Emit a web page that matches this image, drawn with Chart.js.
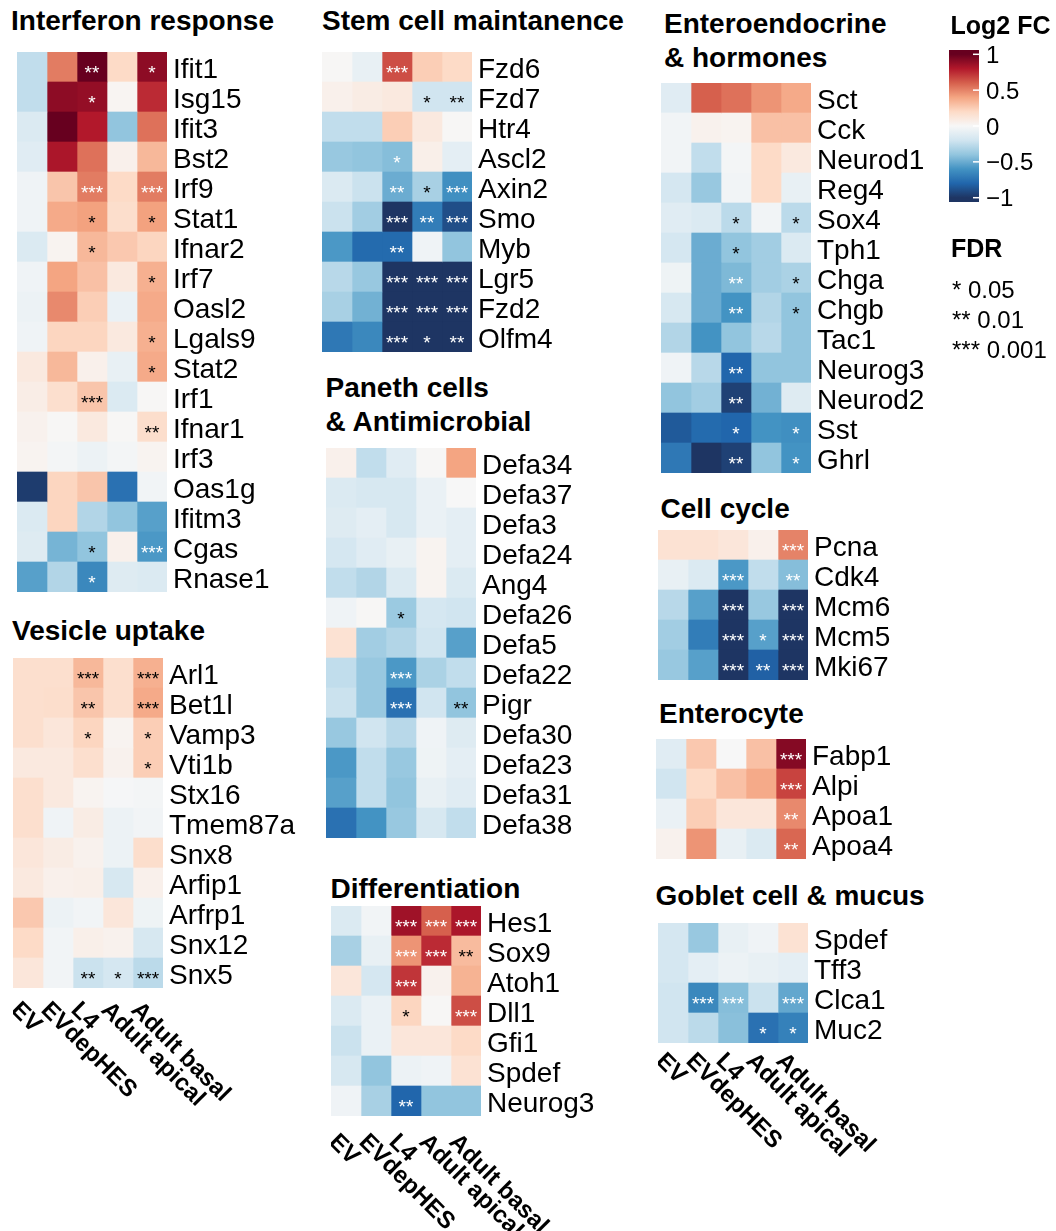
<!DOCTYPE html>
<html>
<head>
<meta charset="utf-8">
<script src="https://cdn.jsdelivr.net/npm/chart.js@4.4.1/dist/chart.umd.min.js"></script>
<style>
  html, body { margin: 0; padding: 0; background: #fff; overflow: hidden; }
  body { width: 1056px; height: 1231px; position: relative; font-family: 'Liberation Sans', Arial, Helvetica, sans-serif; }
  canvas { position: absolute; }
  .txt { position: absolute; white-space: nowrap; line-height: 1; color: #000; }
</style>
</head>
<body>
<script>
const FONT = "'Liberation Sans', Arial, Helvetica, sans-serif";

const samples = ['EV', 'EVdepHES', 'L4', 'Adult apical', 'Adult basal'];

// log2 fold change per gene (rows) and sample (columns); sig = number of FDR stars
const interferonGenes = ['Ifit1', 'Isg15', 'Ifit3', 'Bst2', 'Irf9', 'Stat1', 'Ifnar2', 'Irf7', 'Oasl2',
  'Lgals9', 'Stat2', 'Irf1', 'Ifnar1', 'Irf3', 'Oas1g', 'Ifitm3', 'Cgas', 'Rnase1'];
const interferonFC = [
  [-0.25, 0.52, 1.0, 0.2, 0.9],
  [-0.25, 0.9, 0.88, 0.02, 0.75],
  [-0.15, 1.0, 0.8, -0.4, 0.55],
  [-0.12, 0.82, 0.55, 0.05, 0.33],
  [-0.04, 0.28, 0.52, 0.2, 0.52],
  [-0.04, 0.38, 0.41, 0.18, 0.41],
  [-0.15, 0.03, 0.33, 0.27, 0.22],
  [-0.04, 0.4, 0.3, 0.1, 0.36],
  [-0.06, 0.48, 0.25, -0.07, 0.38],
  [-0.04, 0.22, 0.22, 0.1, 0.36],
  [0.1, 0.33, 0.05, -0.08, 0.38],
  [0.07, 0.17, 0.28, -0.15, 0.01],
  [0.04, 0.01, 0.1, 0.01, 0.18],
  [0.03, -0.02, -0.06, -0.02, 0.03],
  [-0.97, 0.22, 0.28, -0.75, -0.03],
  [-0.15, 0.22, -0.3, -0.4, -0.55],
  [-0.13, -0.47, -0.4, 0.05, -0.58],
  [-0.55, -0.3, -0.65, -0.13, -0.15]
];
const interferonSig = [
  [0, 0, 2, 0, 1], [0, 0, 1, 0, 0], [0, 0, 0, 0, 0], [0, 0, 0, 0, 0], [0, 0, 3, 0, 3],
  [0, 0, 1, 0, 1], [0, 0, 1, 0, 0], [0, 0, 0, 0, 1], [0, 0, 0, 0, 0], [0, 0, 0, 0, 1],
  [0, 0, 0, 0, 1], [0, 0, 3, 0, 0], [0, 0, 0, 0, 2], [0, 0, 0, 0, 0], [0, 0, 0, 0, 0],
  [0, 0, 0, 0, 0], [0, 0, 1, 0, 3], [0, 0, 1, 0, 0]
];

const vesicleGenes = ['Arl1', 'Bet1l', 'Vamp3', 'Vti1b', 'Stx16', 'Tmem87a', 'Snx8', 'Arfip1', 'Arfrp1', 'Snx12', 'Snx5'];
const vesicleFC = [
  [0.17, 0.17, 0.33, 0.17, 0.36],
  [0.17, 0.18, 0.28, 0.17, 0.38],
  [0.17, 0.12, 0.22, 0.03, 0.25],
  [0.1, 0.1, 0.17, 0.04, 0.25],
  [0.17, 0.1, 0.03, -0.01, -0.02],
  [0.17, -0.04, 0.08, -0.06, -0.03],
  [0.12, 0.08, 0.04, -0.06, 0.18],
  [0.1, 0.05, 0.06, -0.17, 0.05],
  [0.27, -0.06, -0.03, 0.12, -0.05],
  [0.2, -0.03, 0.06, 0.04, -0.17],
  [0.12, -0.03, -0.22, -0.18, -0.27]
];
const vesicleSig = [
  [0, 0, 3, 0, 3], [0, 0, 2, 0, 3], [0, 0, 1, 0, 1], [0, 0, 0, 0, 1], [0, 0, 0, 0, 0],
  [0, 0, 0, 0, 0], [0, 0, 0, 0, 0], [0, 0, 0, 0, 0], [0, 0, 0, 0, 0], [0, 0, 0, 0, 0],
  [0, 0, 2, 1, 3]
];

const stemGenes = ['Fzd6', 'Fzd7', 'Htr4', 'Ascl2', 'Axin2', 'Smo', 'Myb', 'Lgr5', 'Fzd2', 'Olfm4'];
const stemFC = [
  [0.01, -0.08, 0.65, 0.25, 0.2],
  [0.05, 0.08, 0.1, -0.2, -0.2],
  [-0.25, -0.25, 0.25, 0.1, 0.01],
  [-0.38, -0.4, -0.43, 0.06, -0.1],
  [-0.15, -0.22, -0.5, -0.33, -0.62],
  [-0.22, -0.35, -1.0, -0.7, -0.9],
  [-0.58, -0.78, -0.78, -0.04, -0.4],
  [-0.28, -0.38, -1.0, -1.0, -1.0],
  [-0.33, -0.48, -1.0, -1.0, -1.0],
  [-0.72, -0.65, -1.0, -1.0, -1.0]
];
const stemSig = [
  [0, 0, 3, 0, 0], [0, 0, 0, 1, 2], [0, 0, 0, 0, 0], [0, 0, 1, 0, 0], [0, 0, 2, 1, 3],
  [0, 0, 3, 2, 3], [0, 0, 2, 0, 0], [0, 0, 3, 3, 3], [0, 0, 3, 3, 3], [0, 0, 3, 1, 2]
];

const panethGenes = ['Defa34', 'Defa37', 'Defa3', 'Defa24', 'Ang4', 'Defa26', 'Defa5', 'Defa22', 'Pigr',
  'Defa30', 'Defa23', 'Defa31', 'Defa38'];
const panethFC = [
  [0.05, -0.25, -0.12, 0.01, 0.4],
  [-0.15, -0.17, -0.17, -0.07, 0.0],
  [-0.13, -0.1, -0.17, -0.07, -0.1],
  [-0.18, -0.12, -0.08, 0.03, -0.1],
  [-0.25, -0.3, -0.15, 0.03, -0.15],
  [-0.04, 0.01, -0.37, -0.18, -0.2],
  [0.15, -0.35, -0.3, -0.2, -0.55],
  [-0.25, -0.38, -0.58, -0.32, -0.25],
  [-0.22, -0.38, -0.75, -0.2, -0.4],
  [-0.38, -0.2, -0.28, -0.04, -0.13],
  [-0.58, -0.25, -0.38, -0.05, -0.1],
  [-0.55, -0.25, -0.4, -0.08, -0.12],
  [-0.75, -0.6, -0.38, -0.17, -0.25]
];
const panethSig = [
  [0, 0, 0, 0, 0], [0, 0, 0, 0, 0], [0, 0, 0, 0, 0], [0, 0, 0, 0, 0], [0, 0, 0, 0, 0],
  [0, 0, 1, 0, 0], [0, 0, 0, 0, 0], [0, 0, 3, 0, 0], [0, 0, 3, 0, 2], [0, 0, 0, 0, 0],
  [0, 0, 0, 0, 0], [0, 0, 0, 0, 0], [0, 0, 0, 0, 0]
];

const diffGenes = ['Hes1', 'Sox9', 'Atoh1', 'Dll1', 'Gfi1', 'Spdef', 'Neurog3'];
const diffFC = [
  [-0.15, -0.03, 0.85, 0.6, 0.82],
  [-0.33, -0.08, 0.45, 0.75, 0.32],
  [0.12, -0.18, 0.72, 0.04, 0.35],
  [-0.15, -0.07, 0.22, 0.01, 0.65],
  [-0.22, -0.07, 0.12, 0.12, 0.2],
  [-0.17, -0.4, -0.06, -0.04, 0.15],
  [-0.04, -0.33, -0.8, -0.4, -0.4]
];
const diffSig = [
  [0, 0, 3, 3, 3], [0, 0, 3, 3, 2], [0, 0, 3, 0, 0], [0, 0, 1, 0, 3], [0, 0, 0, 0, 0],
  [0, 0, 0, 0, 0], [0, 0, 2, 0, 0]
];

const endoGenes = ['Sct', 'Cck', 'Neurod1', 'Reg4', 'Sox4', 'Tph1', 'Chga', 'Chgb', 'Tac1', 'Neurog3',
  'Neurod2', 'Sst', 'Ghrl'];
const endoFC = [
  [-0.12, 0.6, 0.55, 0.45, 0.38],
  [-0.03, 0.04, 0.03, 0.3, 0.3],
  [-0.03, -0.25, -0.02, 0.2, 0.1],
  [-0.18, -0.38, -0.03, 0.2, -0.08],
  [-0.12, -0.15, -0.27, -0.03, -0.27],
  [-0.18, -0.5, -0.4, -0.35, -0.15],
  [-0.05, -0.5, -0.45, -0.35, -0.32],
  [-0.17, -0.5, -0.6, -0.3, -0.4],
  [-0.3, -0.6, -0.4, -0.28, -0.4],
  [-0.04, -0.28, -0.8, -0.4, -0.4],
  [-0.4, -0.35, -0.95, -0.48, -0.13],
  [-0.85, -0.78, -0.8, -0.6, -0.62],
  [-0.72, -1.0, -0.95, -0.4, -0.6]
];
const endoSig = [
  [0, 0, 0, 0, 0], [0, 0, 0, 0, 0], [0, 0, 0, 0, 0], [0, 0, 0, 0, 0], [0, 0, 1, 0, 1],
  [0, 0, 1, 0, 0], [0, 0, 2, 0, 1], [0, 0, 2, 0, 1], [0, 0, 0, 0, 0], [0, 0, 2, 0, 0],
  [0, 0, 2, 0, 0], [0, 0, 1, 0, 1], [0, 0, 2, 0, 1]
];

const cycleGenes = ['Pcna', 'Cdk4', 'Mcm6', 'Mcm5', 'Mki67'];
const cycleFC = [
  [0.15, 0.15, 0.12, 0.05, 0.5],
  [-0.08, -0.15, -0.58, -0.25, -0.43],
  [-0.28, -0.55, -1.0, -0.38, -1.0],
  [-0.35, -0.7, -1.0, -0.55, -1.0],
  [-0.38, -0.55, -1.0, -0.82, -1.0]
];
const cycleSig = [[0, 0, 0, 0, 3], [0, 0, 3, 0, 2], [0, 0, 3, 0, 3], [0, 0, 3, 1, 3], [0, 0, 3, 2, 3]];

const enterocyteGenes = ['Fabp1', 'Alpi', 'Apoa1', 'Apoa4'];
const enterocyteFC = [
  [-0.12, 0.27, 0.0, 0.3, 0.92],
  [-0.2, 0.2, 0.3, 0.38, 0.68],
  [-0.07, 0.25, 0.12, 0.12, 0.48],
  [0.04, 0.45, -0.08, -0.15, 0.58]
];
const enterocyteSig = [[0, 0, 0, 0, 3], [0, 0, 0, 0, 3], [0, 0, 0, 0, 2], [0, 0, 0, 0, 2]];

const gobletGenes = ['Spdef', 'Tff3', 'Clca1', 'Muc2'];
const gobletFC = [
  [-0.18, -0.38, -0.08, -0.04, 0.15],
  [-0.18, -0.1, -0.06, -0.08, -0.1],
  [-0.2, -0.65, -0.43, -0.22, -0.52],
  [-0.2, -0.27, -0.42, -0.75, -0.68]
];
const gobletSig = [[0, 0, 0, 0, 0], [0, 0, 0, 0, 0], [0, 3, 3, 0, 3], [0, 0, 0, 1, 1]];

const legendTicks = [-1, -0.5, 0, 0.5, 1];
const fdrLabels = ['* 0.05', '** 0.01', '*** 0.001'];

// RdBu palette, -1 .. 1
const rdbu = ['#1e3563', '#2166ac', '#4393c3', '#92c5de', '#d1e5f0', '#f7f7f7',
  '#fddbc7', '#f4a582', '#d6604d', '#b2182b', '#67001f'];

function hexRgb(h) {
  return [1, 3, 5].map((i) => parseInt(h.slice(i, i + 2), 16));
}

function fcColour(v) {
  const t = (Math.max(-1, Math.min(1, v)) + 1) / 2 * (rdbu.length - 1);
  const i = Math.min(Math.floor(t), rdbu.length - 2);
  const f = t - i;
  const a = hexRgb(rdbu[i]);
  const b = hexRgb(rdbu[i + 1]);
  return 'rgb(' + a.map((x, k) => Math.round(x + (b[k] - x) * f)).join(',') + ')';
}

function addText(str, x, baseline, size, bold) {
  const d = document.createElement('div');
  d.className = 'txt';
  d.textContent = str;
  d.style.fontSize = size + 'px';
  d.style.fontWeight = bold ? 'bold' : 'normal';
  d.style.left = x + 'px';
  d.style.top = (baseline - 0.8465 * size) + 'px';
  document.body.appendChild(d);
}

const starPlugin = (fc, sig) => ({
  id: 'stars',
  afterDatasetsDraw(chart) {
    const { ctx, scales: { x, y } } = chart;
    ctx.save();
    ctx.font = '19px ' + FONT;
    ctx.textAlign = 'center';
    ctx.textBaseline = 'alphabetic';
    sig.forEach((row, r) => row.forEach((n, c) => {
      if (!n) return;
      ctx.fillStyle = Math.abs(fc[r][c]) >= 0.42 ? '#fff' : '#000';
      ctx.fillText('*'.repeat(n), x.getPixelForValue(c + 0.5), y.getPixelForValue(r) + 11.5);
    }));
    ctx.restore();
  },
});

const colLabelPlugin = (gap) => ({
  id: 'colLabels',
  afterDraw(chart) {
    if (gap == null) return;
    const { ctx, chartArea, scales: { x } } = chart;
    ctx.save();
    ctx.font = 'bold 24px ' + FONT;
    ctx.fillStyle = '#000';
    ctx.textAlign = 'left';
    ctx.textBaseline = 'alphabetic';
    samples.forEach((s, c) => {
      ctx.save();
      ctx.translate(x.getPixelForValue(c + 0.5) - 18, chartArea.bottom + gap + 12);
      ctx.rotate(Math.PI / 4);
      ctx.fillText(s, 0, 0);
      ctx.restore();
    });
    ctx.restore();
  },
});

function heatmap(left, top, genes, fc, sig, gap) {
  const labelW = 150;
  const extra = gap == null ? 2 : 160;
  const canvas = document.createElement('canvas');
  canvas.width = 150 + labelW;
  canvas.height = genes.length * 30 + extra;
  canvas.style.left = left + 'px';
  canvas.style.top = top + 'px';
  document.body.appendChild(canvas);

  return new Chart(canvas.getContext('2d'), {
    type: 'bar',
    data: {
      labels: genes,
      datasets: samples.map((s, c) => ({
        label: s,
        data: genes.map(() => [c, c + 1]),
        backgroundColor: fc.map((row) => fcColour(row[c])),
        borderWidth: 0,
        barPercentage: 1,
        categoryPercentage: 1,
        grouped: false,
      })),
    },
    options: {
      indexAxis: 'y',
      responsive: false,
      animation: false,
      events: [],
      layout: { padding: { left: 0, top: 0, right: 0, bottom: extra } },
      plugins: {
        legend: { display: false },
        tooltip: { enabled: false },
      },
      scales: {
        x: { type: 'linear', min: 0, max: 5, display: false },
        y: {
          type: 'category',
          position: 'right',
          offset: true,
          grid: { display: false, drawTicks: false },
          border: { display: false },
          ticks: {
            color: '#000',
            autoSkip: false,
            padding: 6,
            labelOffset: 3,
            font: { family: FONT, size: 28 },
          },
          afterFit: (scale) => {
            scale.width = labelW;
            scale.paddingTop = 0;
            scale.paddingBottom = 0;
          },
        },
      },
    },
    plugins: [starPlugin(fc, sig), colLabelPlugin(gap)],
  });
}

function colourBar(left, top) {
  const canvas = document.createElement('canvas');
  canvas.width = 110;
  canvas.height = 172;
  canvas.style.left = left + 'px';
  canvas.style.top = top + 'px';
  document.body.appendChild(canvas);

  new Chart(canvas.getContext('2d'), {
    type: 'bar',
    data: {
      labels: [''],
      datasets: [{
        data: [[-1.06, 1.06]],
        barPercentage: 1,
        categoryPercentage: 1,
        borderWidth: 0,
        backgroundColor: (ctx) => {
          const chart = ctx.chart;
          if (!chart.chartArea) return '#fff';
          const ys = chart.scales.y;
          const g = chart.ctx.createLinearGradient(0, ys.getPixelForValue(-1), 0, ys.getPixelForValue(1));
          rdbu.forEach((col, i) => g.addColorStop(i / (rdbu.length - 1), col));
          return g;
        },
      }],
    },
    options: {
      responsive: false,
      animation: false,
      events: [],
      layout: { padding: { left: 0, top: 10, right: 0, bottom: 10 } },
      plugins: { legend: { display: false }, tooltip: { enabled: false } },
      scales: {
        x: { display: false },
        y: {
          type: 'linear',
          position: 'right',
          min: -1.06,
          max: 1.06,
          grid: { display: false, drawTicks: false },
          border: { display: false },
          afterBuildTicks: (scale) => {
            scale.ticks = legendTicks.map((v) => ({ value: v }));
          },
          ticks: {
            color: '#000',
            autoSkip: false,
            padding: 7,
            labelOffset: 2,
            font: { family: FONT, size: 24 },
            callback: (v) => String(v).replace('-', '\u2212'),
          },
          afterFit: (scale) => {
            scale.width = 80;
            scale.paddingTop = 0;
            scale.paddingBottom = 0;
          },
        },
      },
    },
    plugins: [{
      id: 'tickMarks',
      afterDatasetsDraw(chart) {
        const { ctx, chartArea, scales: { y } } = chart;
        ctx.save();
        ctx.strokeStyle = '#fff';
        ctx.lineWidth = 1.5;
        legendTicks.forEach((v) => {
          const py = y.getPixelForValue(v);
          ctx.beginPath();
          ctx.moveTo(chartArea.right - 6, py);
          ctx.lineTo(chartArea.right, py);
          ctx.stroke();
        });
        ctx.restore();
      },
    }],
  });
}

// panels
heatmap(17, 52, interferonGenes, interferonFC, interferonSig);
heatmap(13, 658, vesicleGenes, vesicleFC, vesicleSig, 11);
heatmap(322, 52, stemGenes, stemFC, stemSig);
heatmap(326, 448, panethGenes, panethFC, panethSig);
heatmap(331, 906, diffGenes, diffFC, diffSig, 15);
heatmap(661, 83, endoGenes, endoFC, endoSig);
heatmap(658, 530, cycleGenes, cycleFC, cycleSig);
heatmap(656, 739, enterocyteGenes, enterocyteFC, enterocyteSig);
heatmap(658, 923, gobletGenes, gobletFC, gobletSig, 7);
colourBar(949, 40);

// titles
addText('Interferon response', 11, 31, 28, true);
addText('Vesicle uptake', 12, 641, 28, true);
addText('Stem cell maintanence', 322, 31, 28, true);
addText('Paneth cells', 325.5, 398, 28, true);
addText('& Antimicrobial', 325.5, 432, 28, true);
addText('Differentiation', 330.5, 899, 28, true);
addText('Enteroendocrine', 664, 34, 28, true);
addText('& hormones', 664, 68, 28, true);
addText('Cell cycle', 660.5, 519, 28, true);
addText('Enterocyte', 659, 724, 28, true);
addText('Goblet cell & mucus', 655.5, 906, 28, true);

// legend text
addText('Log2 FC', 950.5, 34, 25, true);
addText('FDR', 951, 257, 25, true);
fdrLabels.forEach((t, i) => addText(t, 952, 298 + i * 30, 24, false));
</script>
</body>
</html>
